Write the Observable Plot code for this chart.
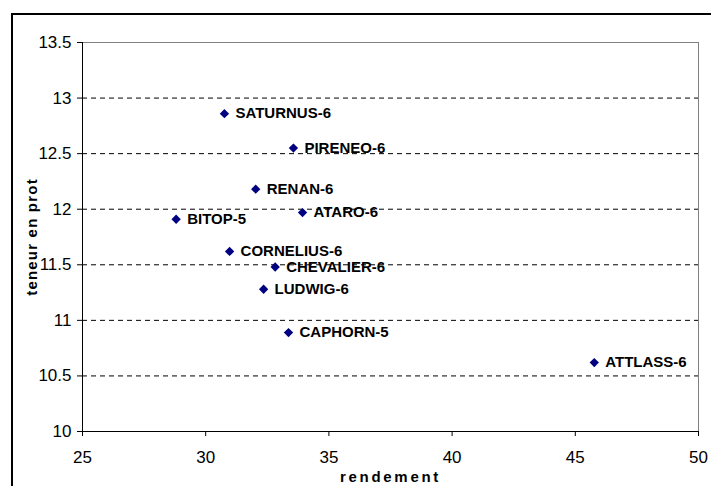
<!DOCTYPE html>
<html>
<head>
<meta charset="utf-8">
<script src="https://cdn.jsdelivr.net/npm/d3@7"></script>
<script src="https://cdn.jsdelivr.net/npm/@observablehq/plot@0.6"></script>
<style>
  html, body { margin: 0; padding: 0; background: #fff; }
  #wrap { position: relative; width: 711px; height: 486px; overflow: hidden; }
  #border { position: absolute; left: 11px; top: 13px; width: 720px; height: 500px;
            border-left: 2px solid #000; border-top: 2px solid #000; pointer-events: none; }
</style>
</head>
<body>
<div id="wrap"><div id="border"></div></div>
<script>
const names = ["SATURNUS-6","PIRENEO-6","RENAN-6","ATARO-6","BITOP-5","CORNELIUS-6","CHEVALIER-6","LUDWIG-6","CAPHORN-5","ATTLASS-6"];
const rendement = [30.76, 33.56, 32.03, 33.93, 28.80, 30.97, 32.82, 32.35, 33.36, 45.77];
const teneur = [12.86, 12.55, 12.18, 11.97, 11.91, 11.62, 11.48, 11.28, 10.89, 10.62];
const xTicks = [25, 30, 35, 40, 45, 50];
const yTicks = [10, 10.5, 11, 11.5, 12, 12.5, 13, 13.5];
const gridLines = [10.5, 11, 11.5, 12, 12.5, 13];

const data = names.map((n, i) => ({name: n, x: rendement[i], y: teneur[i]}));
const font = "Arial, 'Liberation Sans', sans-serif";

const chart = Plot.plot({
  width: 711,
  height: 486,
  marginLeft: 82,
  marginRight: 13,
  marginTop: 42,
  marginBottom: 55,
  style: {fontFamily: font, color: "#000", background: "transparent", overflow: "visible"},
  x: {domain: [25, 50]},
  y: {domain: [10, 13.5]},
  marks: [
    Plot.ruleY(gridLines, {stroke: "#000", strokeWidth: 1, strokeDasharray: "5,4"}),
    Plot.ruleY([13.5], {stroke: "#808080", strokeWidth: 1}),
    Plot.ruleX([50], {stroke: "#808080", strokeWidth: 1}),
    Plot.ruleY([10], {stroke: "#000", strokeWidth: 1}),
    Plot.ruleX([25], {stroke: "#000", strokeWidth: 1}),
    Plot.axisX({ticks: xTicks, tickSize: 5, tickPadding: 14, fontSize: 17, label: null, tickFormat: d => String(d), stroke: "#000"}),
    Plot.axisY({ticks: yTicks, tickSize: 5, tickPadding: 6, fontSize: 17, label: null, tickFormat: d => String(d), stroke: "#000"}),
    Plot.dot(data, {x: "x", y: "y", symbol: "diamond2", r: 4.2, fill: "#000080", stroke: "none"}),
    Plot.text(data, {x: "x", y: "y", text: "name", dx: 11, textAnchor: "start", fontWeight: "bold", fontSize: 15, fill: "#000"}),
    Plot.text(["rendement"], {frameAnchor: "bottom", dy: 50, textAnchor: "middle", fontWeight: "bold", fontSize: 15, fill: "#000"}),
    Plot.text(["teneur en prot"], {frameAnchor: "left", dx: -50, rotate: -90, textAnchor: "middle", lineAnchor: "middle", fontWeight: "bold", fontSize: 15, fill: "#000"})
  ]
});
chart.style.position = "absolute";
chart.style.left = "0";
chart.style.top = "0";
document.getElementById("wrap").prepend(chart);
d3.select(chart).selectAll("text").filter(function(){ return this.textContent === "rendement"; }).attr("letter-spacing", "2.7px");
d3.select(chart).selectAll("text").filter(function(){ return this.textContent === "teneur en prot"; }).attr("letter-spacing", "1.2px");
</script>
</body>
</html>
